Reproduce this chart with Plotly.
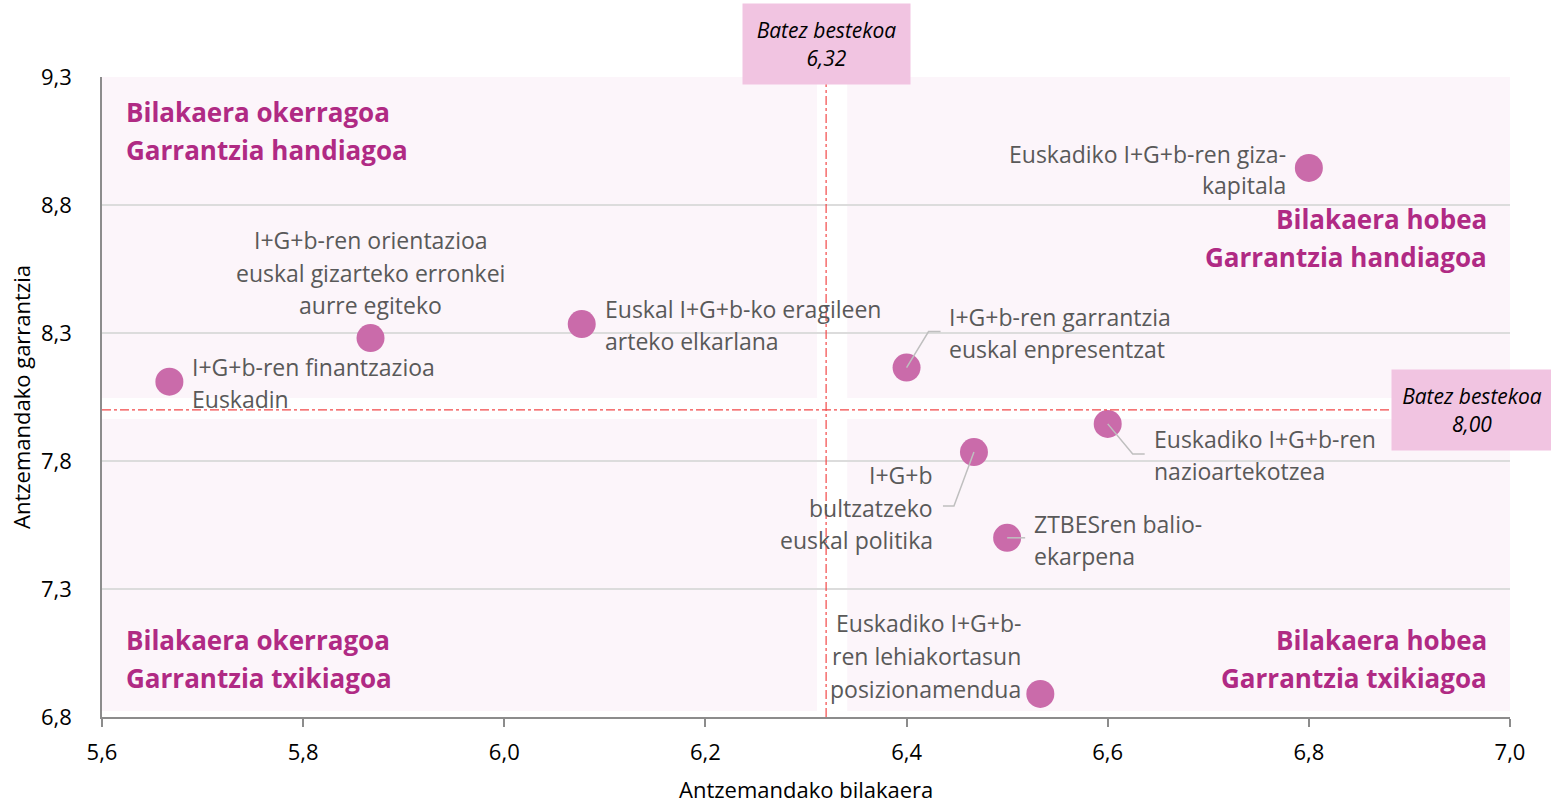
import plotly.graph_objects as go

# Perceived evolution (x) and perceived importance (y) of each R&D&i factor
factor_lines = [
    ["I+G+b-ren finantzazioa", "Euskadin"],
    ["I+G+b-ren orientazioa", "euskal gizarteko erronkei", "aurre egiteko"],
    ["Euskal I+G+b-ko eragileen", "arteko elkarlana"],
    ["I+G+b-ren garrantzia", "euskal enpresentzat"],
    ["Euskadiko I+G+b-ren giza-", "kapitala"],
    ["Euskadiko I+G+b-ren", "nazioartekotzea"],
    ["I+G+b", "bultzatzeko", "euskal politika"],
    ["ZTBESren balio-", "ekarpena"],
    ["Euskadiko I+G+b-", "ren lehiakortasun", "posizionamendua"],
]
evolution = [5.667, 5.867, 6.077, 6.400, 6.800, 6.600, 6.467, 6.500, 6.533]
importance = [8.11, 8.28, 8.335, 8.165, 8.945, 7.945, 7.835, 7.50, 6.89]

avg_evolution = 6.32
avg_importance = 8.00

x_ticks = [5.6, 5.8, 6.0, 6.2, 6.4, 6.6, 6.8, 7.0]
y_ticks = [6.8, 7.3, 7.8, 8.3, 8.8, 9.3]

quadrant_titles = {
    "tl": ["Bilakaera okerragoa", "Garrantzia handiagoa"],
    "tr": ["Bilakaera hobea", "Garrantzia handiagoa"],
    "bl": ["Bilakaera okerragoa", "Garrantzia txikiagoa"],
    "br": ["Bilakaera hobea", "Garrantzia txikiagoa"],
}

X_RANGE = [5.6, 7.0]
Y_RANGE = [6.8, 9.3]
W, H = 1551, 804
M = dict(l=102, r=41, t=77, b=87)
PLOT_W = W - M["l"] - M["r"]
PLOT_H = H - M["t"] - M["b"]
PX_X = (X_RANGE[1] - X_RANGE[0]) / PLOT_W   # data units per pixel
PX_Y = (Y_RANGE[1] - Y_RANGE[0]) / PLOT_H

FONT = "Open Sans"
TEXT_GREY = "#595959"
MAGENTA = "#B02A84"
MARKER = "#CA6BAA"
PINK_BG = "#FCF5FA"
AVG_LINE = "#F24848"

fig = go.Figure()


def px_to_paper(px, py):
    return (px - M["l"]) / PLOT_W, (H - M["b"] - py) / PLOT_H


# quadrant panels, separated by white bands around the averages
gap_x, gap_y = 0.015, 0.041
panels = [
    (X_RANGE[0], avg_evolution - gap_x + 0.006, avg_importance + gap_y + 0.005, Y_RANGE[1]),
    (avg_evolution + gap_x + 0.006, X_RANGE[1], avg_importance + gap_y + 0.005, Y_RANGE[1]),
    (X_RANGE[0], avg_evolution - gap_x + 0.006, Y_RANGE[0] + 6 * PX_Y, avg_importance - gap_y + 0.005),
    (avg_evolution + gap_x + 0.006, X_RANGE[1], Y_RANGE[0] + 6 * PX_Y, avg_importance - gap_y + 0.005),
]
for x0, x1, y0, y1 in panels:
    fig.add_shape(type="rect", x0=x0, x1=x1, y0=y0, y1=y1, xref="x", yref="y",
                  fillcolor=PINK_BG, line_width=0, layer="below")

# average reference lines
fig.add_shape(type="line", x0=avg_evolution, x1=avg_evolution, xref="x",
              y0=0, y1=1 + 6 / PLOT_H, yref="paper",
              line=dict(color=AVG_LINE, width=1.2, dash="dashdot"))
fig.add_shape(type="line", y0=avg_importance, y1=avg_importance, yref="y",
              x0=0, x1=(1393 - M["l"]) / PLOT_W, xref="paper",
              line=dict(color=AVG_LINE, width=1.2, dash="dashdot"))

# data points
fig.add_trace(go.Scatter(
    x=evolution, y=importance, mode="markers",
    marker=dict(size=28, color=MARKER, line_width=0),
    hoverinfo="skip", showlegend=False,
))

# leader lines (pixel offsets from each point)
leaders = {
    3: [(0, 0), (22, 36), (34, 36)],
    6: [(0, 0), (-20, -54), (-31, -54)],
    5: [(0, 0), (25, -30), (37, -30)],
    7: [(0, 0), (18, 0)],
}
for i, path in leaders.items():
    fig.add_trace(go.Scatter(
        x=[evolution[i] + dx * PX_X for dx, dy in path],
        y=[importance[i] + dy * PX_Y for dx, dy in path],
        mode="lines", line=dict(color="#BFBFBF", width=1.5),
        hoverinfo="skip", showlegend=False,
    ))

# point labels: (anchor, x shift, y shift of first line, line step)
label_pos = [
    ("left", 21, 15, 32),
    ("center", 0, 98, 32.5),
    ("left", 21, 15, 32),
    ("left", 40, 51, 32),
    ("right", -21, 14, 31),
    ("left", 44, -15, 32),
    ("right", -39, -23, 32.5),
    ("left", 25, 14, 32),
    ("right", -17, 71, 33),
]
for i, lines in enumerate(factor_lines):
    anchor, xs, ys, step = label_pos[i]
    for k, line in enumerate(lines):
        fig.add_annotation(
            x=evolution[i], y=importance[i], xref="x", yref="y",
            text=line, showarrow=False, xanchor=anchor, yanchor="middle",
            xshift=xs, yshift=ys - k * step,
            font=dict(family=FONT, size=23, color=TEXT_GREY),
        )

# quadrant titles
quad_pos = {"tl": (124, 112, "left"), "tr": (1489, 219, "right"),
            "bl": (124, 640, "left"), "br": (1489, 640, "right")}
for key, lines in quadrant_titles.items():
    px, py, anchor = quad_pos[key]
    for k, line in enumerate(lines):
        xp, yp = px_to_paper(px, py + 38 * k)
        fig.add_annotation(
            x=xp, y=yp, xref="paper", yref="paper", text=f"<b>{line}</b>",
            showarrow=False, xanchor=anchor, yanchor="middle",
            font=dict(family=FONT, size=26, color=MAGENTA),
        )

# average value boxes
def fmt(v):
    return f"{v:.2f}".replace(".", ",")

fig.add_annotation(
    x=avg_evolution, xref="x", y=px_to_paper(0, 44)[1], yref="paper",
    text=f"<i>Batez bestekoa</i><br><i>{fmt(avg_evolution)}</i>",
    showarrow=False, width=165, height=78, bgcolor="#F1C4E1",
    align="center", valign="middle", xanchor="center", yanchor="middle",
    font=dict(family=FONT, size=21, color="#000000"),
)
fig.add_annotation(
    x=px_to_paper(1472, 0)[0], xref="paper", y=avg_importance, yref="y",
    text=f"<i>Batez bestekoa</i><br><i>{fmt(avg_importance)}</i>",
    showarrow=False, width=158, height=78, bgcolor="#F1C4E1",
    align="center", valign="middle", xanchor="center", yanchor="middle",
    font=dict(family=FONT, size=21, color="#000000"),
)

# axis titles
xp, yp = px_to_paper(806, 789)
fig.add_annotation(x=0.5, y=yp, xref="paper", yref="paper",
                   xanchor="center", yanchor="middle",
                   text="Antzemandako bilakaera", showarrow=False,
                   font=dict(family=FONT, size=22, color="#000000"))
xp, yp = px_to_paper(21, 397)
fig.add_annotation(x=xp, y=yp, xref="paper", yref="paper", textangle=-90,
                   xanchor="center", yanchor="middle",
                   text="Antzemandako garrantzia", showarrow=False,
                   font=dict(family=FONT, size=22, color="#000000"))

fig.update_xaxes(
    range=X_RANGE, tickvals=x_ticks,
    ticktext=[f"{v:.1f}".replace(".", ",") for v in x_ticks],
    showgrid=False, zeroline=False, showline=True, linecolor="#8C8C8C", linewidth=1.5,
    ticks="outside", ticklen=8, tickcolor="#8C8C8C", tickwidth=1.5,
    tickfont=dict(family=FONT, size=22, color="#000000"), ticklabelstandoff=7,
)
fig.update_yaxes(
    range=Y_RANGE, tickvals=y_ticks,
    ticktext=[f"{v:.1f}".replace(".", ",") for v in y_ticks],
    showgrid=True, gridcolor="#DCDCDC", gridwidth=1.5, zeroline=False,
    showline=True, linecolor="#8C8C8C", linewidth=1.5, ticks="",
    tickfont=dict(family=FONT, size=22, color="#000000"), ticklabelstandoff=24,
)

fig.update_layout(
    width=W, height=H, margin=M,
    paper_bgcolor="white", plot_bgcolor="white",
    showlegend=False,
)

fig.write_html("out.html")
